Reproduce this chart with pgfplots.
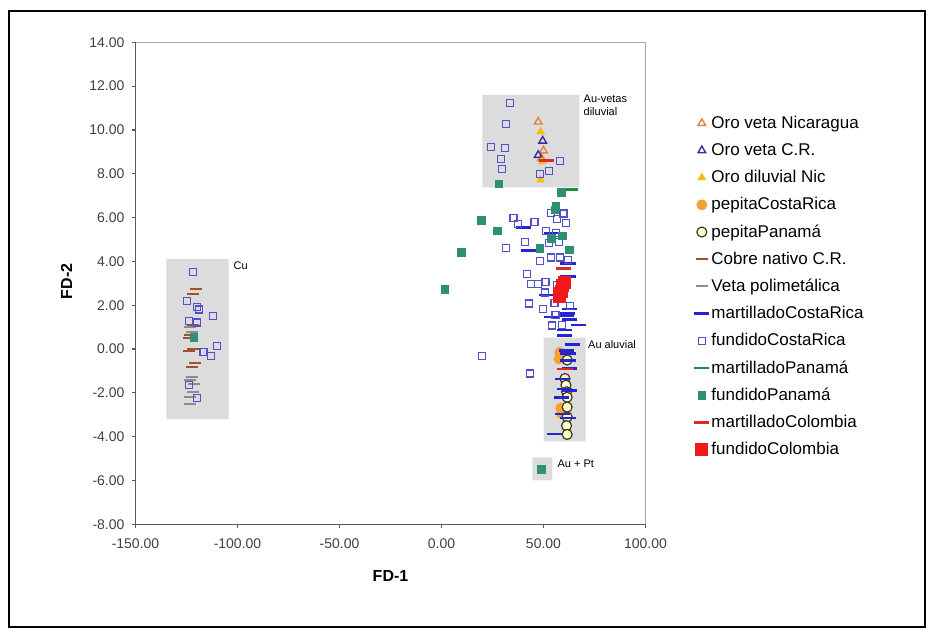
\documentclass[border=0pt]{standalone}
\usepackage{fontspec}
\setmainfont{Liberation Sans}
\usepackage{pgfplots}
\pgfplotsset{compat=1.18}

\definecolor{fcr}{HTML}{5050CC}
\definecolor{mcr}{HTML}{2424D4}
\definecolor{fpa}{HTML}{2E9070}
\definecolor{mpa}{HTML}{1E8C3C}
\definecolor{cobre}{HTML}{A0522D}
\definecolor{poli}{HTML}{8C8C8C}
\definecolor{onic}{HTML}{E0843C}
\definecolor{ocr}{HTML}{33339A}
\definecolor{odil}{HTML}{F2BE1A}
\definecolor{pcr}{HTML}{F5A030}
\definecolor{ppa}{HTML}{3D3D10}
\definecolor{mco}{HTML}{E02828}
\definecolor{fco}{HTML}{F01818}
\definecolor{boxgray}{HTML}{DCDCDC}

\begin{document}
\begin{tikzpicture}[x=1pt,y=1pt]
\path[use as bounding box] (0,0) rectangle (465.5,315);
\draw[black, line width=1.2pt] (4.5,1.5) rectangle (462.5,309.5);
\begin{axis}[
  at={(67.75pt,52.85pt)}, anchor=south west,
  scale only axis, width=255pt, height=241pt,
  xmin=-150, xmax=100, ymin=-8, ymax=14,
  xtick={-150,-100,...,100}, ytick={-8,-6,...,14},
  axis x line*=bottom, axis y line*=left,
  axis line style={draw=black!65, line width=0.6pt},
  tick style={draw=black!65, line width=0.6pt},
  tick align=outside, major tick length=2pt,
  clip=false,
  ticklabel style={font=\fontsize{7}{8}\selectfont, text=black!75},
  xticklabel style={yshift=-1.5pt},
  /pgf/number format/.cd, fixed, fixed zerofill, precision=2, assume math mode=true,
  /pgfplots/.cd,
  xlabel={\textbf{FD-1}}, ylabel={\textbf{FD-2}},
  label style={font=\fontsize{8}{9}\selectfont},
  xlabel style={at={(axis description cs:0.5,-0.108)}, anchor=center},
  ylabel style={at={(axis description cs:-0.135,0.504)}, anchor=center, rotate=0},
  legend style={at={(1.083,0.864)}, anchor=north west, draw=none, fill=none,
    font=\fontsize{8.5}{10}\selectfont,
    nodes={inner sep=1pt, text height=7pt, text depth=2pt},
    row sep=2.6pt},
  legend cell align=left,
  mk/.style={only marks,
    legend image code/.code={\path[draw=none, fill=none] (1pt,-2pt) rectangle (7pt,2pt); \draw[##1] plot coordinates {(4pt,0pt)};}},
]
% shaded groups
\addplot[fill=boxgray, draw=none, no markers, forget plot] coordinates {(-134.9,-3.2) (-104.4,-3.2) (-104.4,4.1) (-134.9,4.1) (-134.9,-3.2)};
\addplot[fill=boxgray, draw=none, no markers, forget plot] coordinates {(20.0,7.38) (67.6,7.38) (67.6,11.6) (20.0,11.6) (20.0,7.38)};
\addplot[fill=boxgray, draw=none, no markers, forget plot] coordinates {(50.0,-4.21) (70.6,-4.21) (70.6,0.52) (50.0,0.52) (50.0,-4.21)};
\addplot[fill=boxgray, draw=none, no markers, forget plot] coordinates {(44.5,-6.0) (54.3,-6.0) (54.3,-4.94) (44.5,-4.94) (44.5,-6.0)};

% Oro veta Nicaragua
\addplot[mk, mark=triangle, mark size=2.2pt, mark options={draw=onic, line width=0.7pt}] coordinates {
(47.4,10.37) (50.0,9.05) (49.0,8.70)};
\addlegendentry{Oro veta Nicaragua}
% Oro veta C.R.
\addplot[mk, mark=triangle, mark size=2.2pt, mark options={draw=ocr, line width=0.7pt}] coordinates {
(49.6,9.50) (47.4,8.85)};
\addlegendentry{Oro veta C.R.}
% Oro diluvial Nic
\addplot[mk, mark=triangle*, mark size=2.2pt, mark options={draw=odil, fill=odil}] coordinates {
(48.6,9.92) (48.5,7.72) (49.3,8.55)};
\addlegendentry{Oro diluvial Nic}
% pepitaCostaRica
\addplot[mk, mark=*, mark size=2.5pt, mark options={draw=pcr, fill=pcr}] coordinates {
(58.0,-0.15) (57.6,-0.45) (58.4,-2.70) (58.8,-2.95)};
\addlegendentry{pepitaCostaRica}
% pepitaPanama
\addplot[mk, mark=*, mark size=2.5pt, mark options={draw=ppa, fill=yellow!18, line width=0.6pt}] coordinates {
(61.6,-0.50) (60.5,-1.35) (61.0,-1.65) (61.3,-1.95) (61.6,-2.20) (61.6,-2.65) (61.6,-3.10) (61.3,-3.50) (61.6,-3.90)};
\addlegendentry{pepitaPanamá}
% Cobre nativo C.R.
\addplot[mk, mark=-, mark size=3pt, mark options={draw=cobre, line width=1pt}] coordinates {
(-120.3,2.72) (-121.9,2.52) (-121.9,1.09) (-123.2,0.62) (-124.0,0.50) (-121.6,0.02) (-123.6,-0.08) (-120.7,-0.66) (-122.3,-0.82)};
\addlegendentry{Cobre nativo C.R.}
% Veta polimetalica
\addplot[mk, mark=-, mark size=3pt, mark options={draw=poli, line width=1pt}] coordinates {
(-123.4,0.99) (-122.2,0.78) (-122.2,-1.27) (-123.1,-1.42) (-121.5,-1.60) (-121.7,-1.95) (-123.1,-2.18) (-123.4,-2.52)};
\addlegendentry{Veta polimetálica}
% martilladoCostaRica
\addplot[mk, mark=-, mark size=3.8pt, mark options={draw=mcr, line width=1.3pt}] coordinates {
(40.0,5.55) (42.5,4.50) (53.9,5.29) (62.0,3.89) (62.0,3.30) (51.4,2.46) (62.8,1.82) (61.5,1.62)
(61.2,1.50) (62.8,1.35) (67.0,1.10) (60.3,0.86) (60.3,0.63) (64.4,0.22) (61.2,-0.06) (62.0,-0.21)
(62.0,-0.52) (62.8,-0.90) (59.5,-1.36) (60.3,-1.82) (62.8,-1.89) (58.7,-2.20) (59.5,-2.96)
(62.0,-3.15) (55.5,-3.88) (53.9,1.47)};
\addlegendentry{martilladoCostaRica}
% fundidoCostaRica
\addplot[mk, mark=square, mark size=1.75pt, mark options={draw=fcr, fill=white, line width=0.6pt}] coordinates {
(-121.9,3.52) (-124.6,2.18) (-120.0,1.92) (-118.7,1.80) (-112.1,1.50) (-123.7,1.27) (-119.7,1.21)
(-110.2,0.14) (-116.7,-0.14) (-113.1,-0.33) (-123.6,-1.66) (-120.0,-2.24)
(33.6,11.23) (31.8,10.27) (24.1,9.21) (31.1,9.17) (29.0,8.66) (29.6,8.21) (57.9,8.59) (52.5,8.14) (48.1,7.99)
(53.8,6.22) (59.8,6.19) (56.7,5.92) (61.1,5.76) (35.3,5.99) (37.4,5.70) (45.6,5.81) (41.1,4.88)
(31.8,4.61) (51.3,5.38) (56.2,5.31) (52.5,4.85) (57.5,4.89) (48.4,4.03) (53.8,4.18) (57.9,4.18)
(61.9,4.06) (42.0,3.43) (44.0,2.95) (47.4,2.95) (51.0,3.05) (56.5,2.93) (50.7,2.58) (56.5,2.56)
(42.8,2.08) (49.7,1.83) (55.4,2.10) (62.8,1.95) (54.3,1.07) (59.2,1.10) (55.9,1.54)
(19.8,-0.31) (43.3,-1.12)};
\addlegendentry{fundidoCostaRica}
% martilladoPanama
\addplot[mk, mark=-, mark size=3.8pt, mark options={draw=mpa, line width=1.3pt}] coordinates {
(63.0,7.28)};
\addlegendentry{martilladoPanamá}
% fundidoPanama
\addplot[mk, mark=square*, mark size=1.9pt, mark options={draw=fpa, fill=fpa}] coordinates {
(-121.4,0.53) (28.2,7.54) (58.9,7.16) (56.1,6.50) (55.6,6.35) (19.7,5.86) (27.4,5.39) (9.9,4.41)
(1.6,2.72) (48.3,4.60) (59.2,5.17) (53.9,5.05) (62.6,4.52) (49.1,-5.49)};
\addlegendentry{fundidoPanamá}
% martilladoColombia
\addplot[mk, mark=-, mark size=3.8pt, mark options={draw=mco, line width=1.3pt}] coordinates {
(51.5,8.60) (59.7,3.67) (60.5,-0.92)};
\addlegendentry{martilladoColombia}
% fundidoColombia
\addplot[mk, mark=square*, mark size=3pt, mark options={draw=fco, fill=fco}] coordinates {
(58.0,2.38) (58.6,2.65) (59.4,2.90) (60.2,3.05) (57.8,2.55)};
\addlegendentry{fundidoColombia}

\draw[black!35, line width=0.6pt] (rel axis cs:0,1) -- (rel axis cs:1,1) -- (rel axis cs:1,0);
\node[anchor=west, font=\fontsize{5.5}{6.5}\selectfont, inner sep=0pt] at (axis cs:-102.1,3.79) {Cu};
\node[anchor=north west, align=left, font=\fontsize{5.5}{6.4}\selectfont, inner sep=0pt] at (axis cs:69.5,11.62) {Au-vetas\\diluvial};
\node[anchor=west, font=\fontsize{5.5}{6.5}\selectfont, inner sep=0pt] at (axis cs:71.7,0.21) {Au aluvial};
\node[anchor=west, font=\fontsize{5.5}{6.5}\selectfont, inner sep=0pt] at (axis cs:56.7,-5.24) {Au + Pt};
\end{axis}
\end{tikzpicture}
\end{document}
